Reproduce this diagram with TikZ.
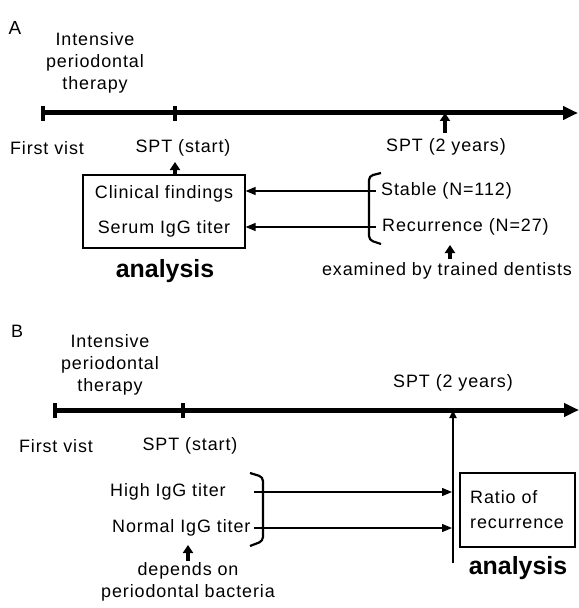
\documentclass[tikz,border=0pt]{standalone}
\usepackage{fontspec}
\setmainfont{Liberation Sans}[LetterSpace=5]
\newfontfamily\plainsans{Liberation Sans}
\usetikzlibrary{arrows.meta}
\begin{document}
\begin{tikzpicture}[x=1bp,y=-1bp,
  lbl/.style={inner sep=0pt,font=\fontsize{18}{22}\selectfont,align=center},
  big/.style={inner sep=0pt,font=\plainsans\fontsize{25}{26}\selectfont\bfseries},
  timeline/.style={line width=5bp,-{Triangle[length=15bp,width=13bp]}},
  tickbar/.style={line width=4bp},
  thinarrow/.style={line width=1.3bp,-{Triangle[length=10bp,width=8bp]}},
  uparrow/.style={line width=3.5bp,-{Triangle[length=8bp,width=10bp]}},
  bracestyle/.style={line width=2.2bp,rounded corners=4bp},
  boxstyle/.style={draw,line width=1.2bp,inner sep=0pt}
]
\useasboundingbox (0,0) rectangle (579,608);
% ---------------- Panel A ----------------
\node[inner sep=0pt,font=\plainsans\fontsize{19}{19}\selectfont] (labA) at (15,28) {A};
\node[lbl] (ipA) at (95,63) {Intensive\\periodontal\\therapy};
\coordinate (a0) at (43,113);
\coordinate (a1) at (175,113);
\coordinate (a2) at (445,113);
\coordinate (aEnd) at (578,113);
\draw[timeline] (a0) -- (aEnd);
\draw[tickbar] ([yshift=-8bp]a0) -- ([yshift=7bp]a0);
\draw[tickbar] ([yshift=-8bp]a1) -- ([yshift=7bp]a1);
\node[lbl] (fvA) at (47,148) {First vist};
\node[lbl] (ssA) at (183,148) {SPT (start)};
\node[lbl] (s2A) at (446,147) {SPT (2 years)};
\coordinate (s2Abot) at (445,133);
\draw[uparrow] (s2Abot) -- (a2);
\node[boxstyle,minimum width=162bp,minimum height=73bp,font=\fontsize{18}{35}\selectfont,align=center] (boxA) at (164,211.5) {Clinical findings\\Serum IgG titer};
\coordinate (boxAtop) at (175,175);
\coordinate (ssAbot) at (175,162);
\draw[uparrow] (boxAtop) -- (ssAbot);
\node[big] (anA) at (165,271) {analysis};
\node[lbl,anchor=west] (stab) at (381,191) {Stable (N=112)};
\node[lbl,anchor=west] (recu) at (382,227) {Recurrence (N=27)};
\coordinate (brA1) at (369,191);
\coordinate (brA2) at (369,227);
\draw[bracestyle] (381,173) -- (369,176) -- (369,240) -- (381,244);
\draw[line width=1.5bp] (brA1) -- (376,191);
\draw[line width=1.5bp] (brA2) -- (376,227);
\draw[thinarrow] (brA1) -- (boxA.east |- brA1);
\draw[thinarrow] (brA2) -- (boxA.east |- brA2);
\node[lbl] (exam) at (447,271) {examined by trained dentists};
\coordinate (examtop) at (450,259);
\coordinate (recbot) at (450,245);
\draw[uparrow] (examtop) -- (recbot);
% ---------------- Panel B ----------------
\node[inner sep=0pt,font=\plainsans\fontsize{18}{18}\selectfont] (labB) at (17,331) {B};
\node[lbl] (ipB) at (110,365) {Intensive\\periodontal\\therapy};
\coordinate (b0) at (55,410);
\coordinate (b1) at (183,410);
\coordinate (b2) at (453,410);
\coordinate (bEnd) at (579,410);
\draw[timeline] (b0) -- (bEnd);
\draw[tickbar] ([yshift=-8bp]b0) -- ([yshift=7bp]b0);
\draw[tickbar] ([yshift=-8bp]b1) -- ([yshift=7bp]b1);
\node[lbl] (fvB) at (56,446) {First vist};
\node[lbl] (ssB) at (190,446) {SPT (start)};
\node[lbl] (s2B) at (453,383) {SPT (2 years)};
\coordinate (vB) at (453,563);
\draw[line width=2.2bp,-{Triangle[length=8bp,width=7bp]}] (vB) -- (b2);
\node[lbl,anchor=west] (high) at (110,492) {High IgG titer};
\node[lbl,anchor=west] (norm) at (112,528) {Normal IgG titer};
\draw[bracestyle] (250,473) -- (263,477) -- (263,541) -- (250,546);
\coordinate (brB1) at (254,492);
\coordinate (brB2) at (254,528);
\draw[thinarrow] (brB1) -- ([xshift=-1bp]vB |- brB1);
\draw[thinarrow] (brB2) -- ([xshift=-1bp]vB |- brB2);
\node[lbl] (dep) at (188,582) {depends on\\periodontal bacteria};
\coordinate (deptop) at (188,561);
\coordinate (normbot) at (188,545);
\draw[uparrow] (deptop) -- (normbot);
\node[boxstyle,minimum width=115bp,minimum height=74bp] (boxB) at (517.5,510) {};
\node[lbl,align=left,anchor=west,font=\fontsize{18}{25}\selectfont] (ratio) at (470,509.5) {Ratio of\\recurrence};
\node[big] (anB) at (518,568) {analysis};
\end{tikzpicture}
\end{document}
